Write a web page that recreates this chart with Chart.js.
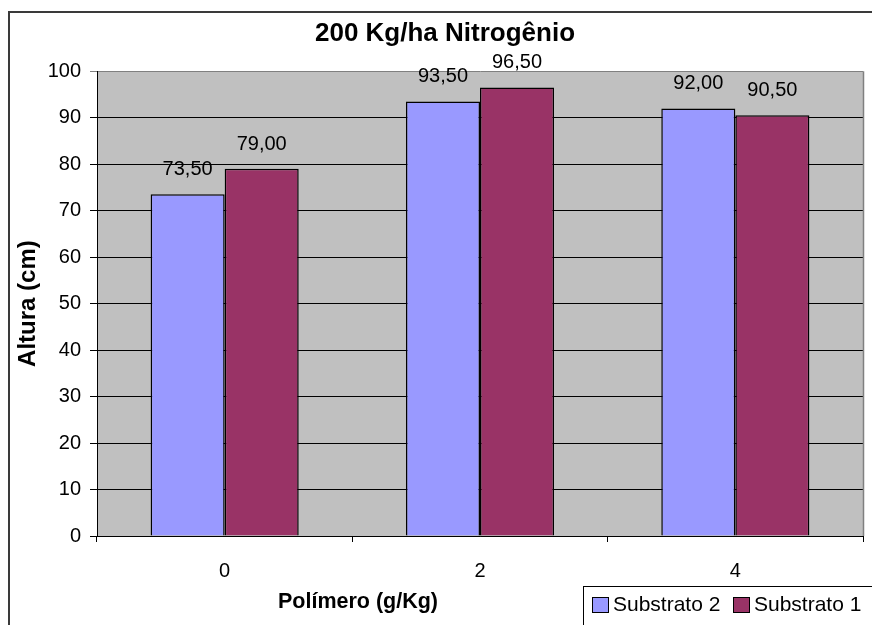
<!DOCTYPE html>
<html>
<head>
<meta charset="utf-8">
<script src="https://cdn.jsdelivr.net/npm/chart.js@4/dist/chart.umd.min.js"></script>
<style>
  html, body { margin: 0; padding: 0; background: #fff; }
  #wrap { width: 872px; height: 625px; position: relative; }
</style>
</head>
<body>
<div id="wrap"><canvas id="c"></canvas></div>
<script>
// --- DATA ---
const categories = ['0', '2', '4'];
const substrato2 = [73.5, 93.5, 92.0];
const substrato1 = [79.0, 96.5, 90.5];
const yTicksMax = 100;
const xTitle = 'Polímero (g/Kg)';

const FONT = 'Arial, "Liberation Sans", sans-serif';

// gray plot area + outer frame
const bgPlugin = {
  id: 'bg',
  beforeDraw(chart) {
    const { ctx, chartArea: a } = chart;
    ctx.save();
    ctx.fillStyle = '#C0C0C0';
    ctx.fillRect(a.left, a.top, a.right - a.left, a.bottom - a.top);
    ctx.strokeStyle = '#3a3a3a';
    ctx.lineWidth = 2;
    ctx.beginPath();
    ctx.moveTo(9, 700);
    ctx.lineTo(9, 12);
    ctx.lineTo(900, 12);
    ctx.stroke();
    ctx.restore();
  },
  beforeDatasetsDraw(chart) {
    const { ctx, chartArea: a } = chart;
    ctx.save();
    ctx.strokeStyle = '#808080';
    ctx.lineWidth = 1.5;
    ctx.beginPath();
    ctx.moveTo(Math.round(a.right) + 0.5, a.top);
    ctx.lineTo(Math.round(a.right) + 0.5, a.bottom);
    ctx.stroke();
    ctx.restore();
  }
};

// value labels above bars
const labelPlugin = {
  id: 'vals',
  afterDatasetsDraw(chart) {
    const { ctx } = chart;
    ctx.save();
    ctx.font = '20px ' + FONT;
    ctx.fillStyle = '#000';
    ctx.textAlign = 'center';
    ctx.textBaseline = 'alphabetic';
    chart.data.datasets.forEach((ds, i) => {
      chart.getDatasetMeta(i).data.forEach((bar, j) => {
        const txt = ds.data[j].toFixed(2).replace('.', ',');
        ctx.fillText(txt, bar.x, bar.y - 19);
      });
    });
    ctx.restore();
  }
};

// x axis title (sits left of centre, beside the legend) + legend box
const legendPlugin = {
  id: 'legbox',
  afterDraw(chart) {
    const { ctx } = chart;
    ctx.save();
    ctx.font = 'bold 21.5px ' + FONT;
    ctx.fillStyle = '#000';
    ctx.textAlign = 'center';
    ctx.textBaseline = 'middle';
    ctx.fillText(xTitle, 358, 602);

    const x0 = 583, y0 = 586;
    ctx.strokeStyle = '#000';
    ctx.lineWidth = 1;
    ctx.strokeRect(x0 + 0.5, y0 + 0.5, 320, 80);
    ctx.font = '21px ' + FONT;
    ctx.textAlign = 'left';
    let x = x0 + 9;
    chart.data.datasets.forEach(ds => {
      ctx.fillStyle = ds.backgroundColor;
      ctx.fillRect(x, 597, 16, 15);
      ctx.strokeStyle = '#000';
      ctx.strokeRect(x + 0.5, 597.5, 16, 15);
      ctx.fillStyle = '#000';
      ctx.fillText(ds.label, x + 21, 605);
      x += 141;
    });
    ctx.restore();
  }
};

const ctx = document.getElementById('c').getContext('2d');
new Chart(ctx, {
  type: 'bar',
  data: {
    labels: categories,
    datasets: [
      { label: 'Substrato 2', data: substrato2, backgroundColor: '#9999FF', borderColor: '#000', borderWidth: 1.5 },
      { label: 'Substrato 1', data: substrato1, backgroundColor: '#993366', borderColor: '#000', borderWidth: 1.5 }
    ]
  },
  options: {
    responsive: true,
    maintainAspectRatio: false,
    animation: false,
    datasets: { bar: { categoryPercentage: 0.58, barPercentage: 1.0 } },
    layout: { padding: { left: 27, right: 9, top: 0, bottom: 0 } },
    plugins: {
      legend: { display: false },
      tooltip: { enabled: false },
      title: {
        display: true,
        text: '200 Kg/ha Nitrogênio',
        color: '#000',
        font: { family: FONT, size: 26, weight: 'bold' },
        padding: { top: 18, bottom: 22 }
      }
    },
    scales: {
      x: {
        afterFit(s) { s.height = 89; },
        grid: { drawOnChartArea: false, tickLength: 6, color: '#000', offset: true },
        border: { color: '#000', width: 1 },
        ticks: { color: '#000', font: { family: FONT, size: 20 }, padding: 17 }
      },
      y: {
        min: 0,
        max: yTicksMax,
        afterFit(s) { s.width = 70; },
        grid: {
          tickLength: 7,
          color: c => (c.tick && c.tick.value === yTicksMax ? '#808080' : '#000')
        },
        border: { color: '#000', width: 1 },
        ticks: { stepSize: 10, color: '#000', font: { family: FONT, size: 20 }, padding: 9 },
        title: {
          display: true,
          text: 'Altura (cm)',
          color: '#000',
          font: { family: FONT, size: 24, weight: 'bold' },
          padding: { top: -13, bottom: 0 }
        }
      }
    }
  },
  plugins: [bgPlugin, labelPlugin, legendPlugin]
});
</script>
</body>
</html>
